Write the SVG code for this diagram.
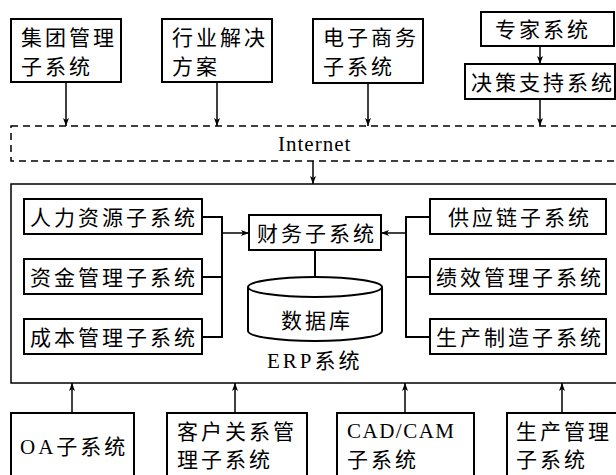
<svg xmlns="http://www.w3.org/2000/svg" width="616" height="475" viewBox="0 0 616 475">
<defs>
<style>
.box{fill:#fff;stroke:#000;stroke-width:2}
.frame{fill:none;stroke:#000;stroke-width:1.5}
.dash{fill:none;stroke:#000;stroke-width:1.5;stroke-dasharray:7 5}
.ln{fill:none;stroke:#000;stroke-width:2}
.ar{fill:none;stroke:#000;stroke-width:1.5;marker-end:url(#ah)}
text{font-family:"Liberation Serif","Noto Sans CJK SC",serif;font-size:21px;letter-spacing:3px;fill:#000}
.lat{font-family:"Liberation Serif",serif}
</style>
<marker id="ah" markerUnits="userSpaceOnUse" markerWidth="8" markerHeight="6" refX="8" refY="3" orient="auto">
<path d="M0,0 L8,3 L0,6 L2,3 Z" fill="#000"/>
</marker>
</defs>
<rect width="616" height="475" fill="#fff"/>

<g id="internet">
<rect class="dash" x="11" y="126" width="620" height="35"/>
<text class="lat" x="278" y="151" style="letter-spacing:1px">Internet</text>
</g>

<g id="erp">
<rect class="frame" x="11" y="184" width="620" height="199"/>
<text x="267" y="368"><tspan class="lat">ERP</tspan>系统</text>
</g>

<g id="connectors">
<line class="ar" x1="66" y1="82" x2="66" y2="126"/>
<line class="ar" x1="217" y1="82" x2="217" y2="126"/>
<line class="ar" x1="368" y1="83" x2="368" y2="126"/>
<line class="ar" x1="540" y1="46" x2="540" y2="64"/>
<line class="ar" x1="540" y1="99" x2="540" y2="126"/>
<line class="ar" x1="313" y1="161" x2="313" y2="184"/>
<path class="ln" d="M202,217 H222 M202,277 H222 M202,337 H222 M222,216 V338"/>
<line class="ar" x1="222" y1="233" x2="249" y2="233"/>
<path class="ln" d="M430,217 H406 M430,277 H406 M430,337 H406 M406,216 V338"/>
<line class="ar" x1="406" y1="233" x2="381" y2="233"/>
<line class="ln" x1="315" y1="250" x2="315" y2="277"/>
<line class="ar" x1="72" y1="413" x2="72" y2="383"/>
<line class="ar" x1="235" y1="413" x2="235" y2="383"/>
<line class="ar" x1="405" y1="413" x2="405" y2="383"/>
<line class="ar" x1="562" y1="413" x2="562" y2="383"/>
</g>

<g id="group-mgmt">
<rect class="box" x="11" y="19" width="110" height="63"/>
<text x="21" y="45">集团管理</text>
<text x="21" y="74">子系统</text>
</g>
<g id="industry">
<rect class="box" x="162" y="19" width="110" height="63"/>
<text x="172" y="45">行业解决</text>
<text x="172" y="74">方案</text>
</g>
<g id="ecommerce">
<rect class="box" x="313" y="19" width="110" height="64"/>
<text x="323" y="45">电子商务</text>
<text x="323" y="74">子系统</text>
</g>
<g id="expert">
<rect class="box" x="481" y="12" width="133" height="34"/>
<text x="495" y="37">专家系统</text>
</g>
<g id="dss">
<rect class="box" x="465" y="64" width="150" height="35"/>
<text x="471" y="90">决策支持系统</text>
</g>

<g id="hr">
<rect class="box" x="24" y="199" width="178" height="35"/>
<text x="30" y="225">人力资源子系统</text>
</g>
<g id="fund">
<rect class="box" x="24" y="259" width="178" height="35"/>
<text x="30" y="285">资金管理子系统</text>
</g>
<g id="cost">
<rect class="box" x="24" y="319" width="178" height="35"/>
<text x="30" y="345">成本管理子系统</text>
</g>
<g id="supply">
<rect class="box" x="430" y="199" width="176" height="35"/>
<text x="448" y="225">供应链子系统</text>
</g>
<g id="perf">
<rect class="box" x="430" y="259" width="176" height="35"/>
<text x="436" y="285">绩效管理子系统</text>
</g>
<g id="prod">
<rect class="box" x="430" y="319" width="176" height="35"/>
<text x="436" y="345">生产制造子系统</text>
</g>
<g id="finance">
<rect class="box" x="249" y="215" width="132" height="35"/>
<text x="257" y="241">财务子系统</text>
</g>
<g id="database">
<path class="box" d="M248,287 A67,10 0 0 1 382,287 L382,331 A67,10 0 0 1 248,331 Z"/>
<path class="ln" d="M248,287 A67,10 0 0 0 382,287"/>
<text x="281" y="328">数据库</text>
</g>

<g id="oa">
<rect class="box" x="11" y="413" width="123" height="80"/>
<text x="20" y="454"><tspan class="lat">OA</tspan>子系统</text>
</g>
<g id="crm">
<rect class="box" x="167" y="413" width="140" height="80"/>
<text x="177" y="439">客户关系管</text>
<text x="177" y="467">理子系统</text>
</g>
<g id="cadcam">
<rect class="box" x="337" y="413" width="137" height="80"/>
<text class="lat" x="347" y="438" style="letter-spacing:1.5px">CAD/CAM</text>
<text x="347" y="467">子系统</text>
</g>
<g id="pm">
<rect class="box" x="507" y="413" width="130" height="80"/>
<text x="516" y="439">生产管理</text>
<text x="516" y="467">子系统</text>
</g>
</svg>
